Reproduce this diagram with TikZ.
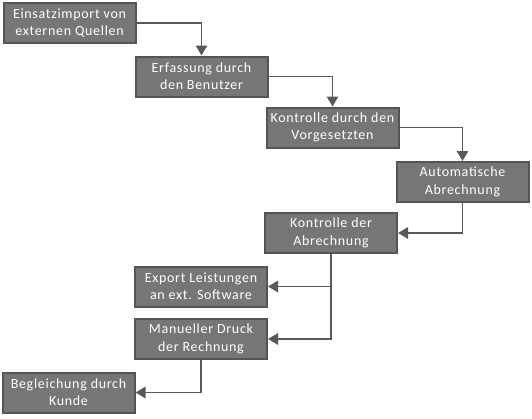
\documentclass[tikz,border=0pt]{standalone}
\usepackage{fontspec}
\setmainfont{Carlito}
\newfontfamily\boxfont[LetterSpace=5]{Carlito}
\usetikzlibrary{arrows.meta}
\definecolor{boxfill}{RGB}{118,118,118}
\definecolor{boxline}{RGB}{85,85,85}
\definecolor{flowline}{RGB}{89,89,89}
\begin{document}
\begin{tikzpicture}[x=0.75pt, y=-0.75pt,
    stepbox/.style={draw=boxline, fill=boxfill, line width=1.5pt, text=white,
      minimum width=99pt, minimum height=30pt, inner sep=1pt, align=center,
      font=\boxfont\fontsize{10.5}{13}\selectfont},
    flow/.style={draw=flowline, line width=1.4pt, -{Triangle[length=7.5pt, width=8.5pt]}}]
    \useasboundingbox (0,0) rectangle (532,418);
    % Steps
    \node[stepbox] (import)   at (69.5,23)   {Einsatzimport von\\externen Quellen};
    \node[stepbox] (erfass)   at (201.5,76.5) {Erfassung durch\\den Benutzer};
    \node[stepbox] (kontr)    at (332.5,127.5) {Kontrolle durch den\\Vorgesetzten};
    \node[stepbox] (autoabr)  at (462.5,182)  {Automatische\\Abrechnung};
    \node[stepbox] (kontrabr) at (331,233)    {Kontrolle der\\Abrechnung};
    \node[stepbox] (export)   at (201,286.5)  {Export Leistungen\\an ext. Software};
    \node[stepbox] (druck)    at (201,339)    {Manueller Druck\\der Rechnung};
    \node[stepbox] (kunde)    at (68.5,392.5) {Begleichung durch\\Kunde};
    % Connectors
    \draw[flow] (import.east) -| (erfass.north);
    \draw[flow] (erfass.east) -| (kontr.north);
    \draw[flow] (kontr.east) -| (autoabr.north);
    \draw[flow] (autoabr.south) |- (kontrabr.east);
    \draw[flow] (kontrabr.south) |- (export.east);
    \draw[flow] (kontrabr.south) |- (druck.east);
    \draw[flow] (druck.south) |- (kunde.east);
\end{tikzpicture}
\end{document}
